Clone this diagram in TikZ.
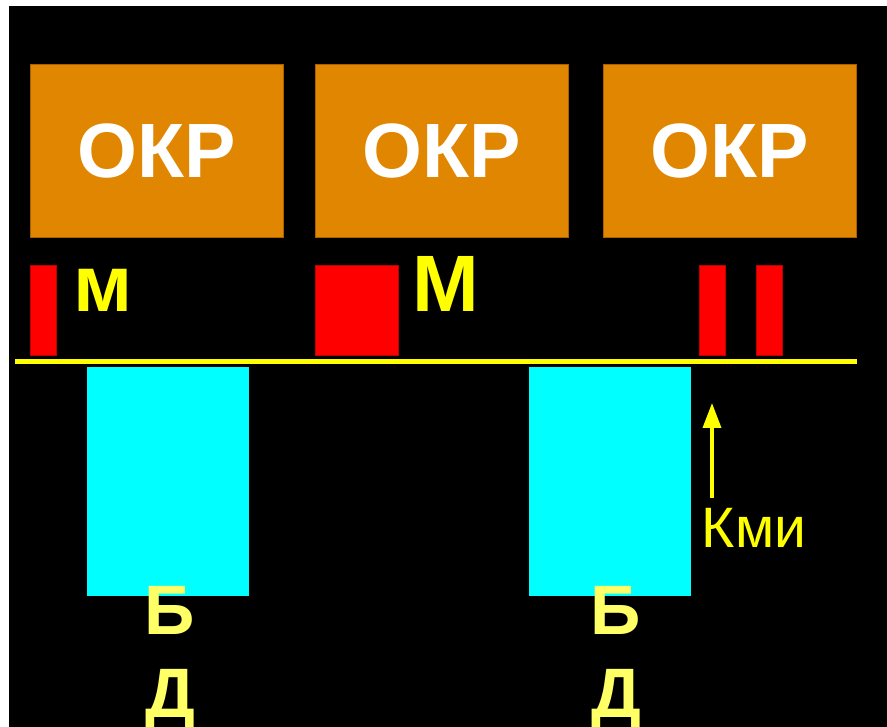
\documentclass[tikz,border=0pt]{standalone}
\usepackage{fontspec}
\setmainfont{Liberation Sans}
\usepackage{tikz}
\usetikzlibrary{arrows.meta}
\definecolor{okrorange}{RGB}{224,134,0}
\definecolor{okredge}{RGB}{168,96,0}
\definecolor{barred}{RGB}{255,0,0}
\definecolor{baredge}{RGB}{190,0,0}
\definecolor{bdcyan}{RGB}{0,255,255}
\definecolor{lineyellow}{RGB}{255,255,0}
\definecolor{bdyellow}{RGB}{255,255,102}
\begin{document}
\begin{tikzpicture}[x=1pt,y=-1pt,line join=miter,
	okrbox/.style={fill=okrorange,draw=okredge,line width=0.6pt,inner sep=0pt,minimum width=253pt,minimum height=173pt,text=white,font=\fontsize{77}{80}\selectfont\bfseries},
	barbox/.style={fill=barred,draw=baredge,line width=0.5pt,inner sep=0pt,minimum height=90pt},
	bdbox/.style={fill=bdcyan,inner sep=0pt,minimum width=162pt,minimum height=229pt},
	mlabel/.style={anchor=base,inner sep=0pt,text=lineyellow,font=\fontsize{80}{82}\selectfont\bfseries},
	bdlabel/.style={anchor=base,inner sep=0pt,text=bdyellow,font=\fontsize{70}{72}\selectfont\bfseries}]
	\useasboundingbox (0,0) rectangle (887,727);
	\fill[white] (0,0) rectangle (887,727);
	\fill[black] (9,6) rectangle (887,727);
	\node[okrbox] (okr1) at (157,150.5) {ОКР};
	\node[okrbox] (okr2) at (441.5,150.5) {ОКР};
	\node[okrbox] (okr3) at (730,150.5) {ОКР};
	\node[barbox,minimum width=26pt] (bar1) at (43,310) {};
	\node[barbox,minimum width=83pt] (bar2) at (356.5,310) {};
	\node[barbox,minimum width=26pt] (bar3) at (712,310) {};
	\node[barbox,minimum width=26pt] (bar4) at (769,310) {};
	\node[mlabel] (small) at (103.5,312) {м};
	\node[mlabel] (big) at (446,312) {М};
	\coordinate (lineL) at (15,361.5);
	\coordinate (lineR) at (857,361.5);
	\draw[lineyellow,line width=5.5pt] (lineL) -- (lineR);
	\node[bdbox] (bd1) at (168,481.5) {};
	\node[bdbox] (bd2) at (610,481.5) {};
	\node[bdlabel] (b1) at (170,634) {Б};
	\node[bdlabel] (d1) at (170,717) {Д};
	\node[bdlabel] (b2) at (616,634) {Б};
	\node[bdlabel] (d2) at (616,717) {Д};
	\node[anchor=base,inner sep=0pt,text=lineyellow,font=\fontsize{57}{60}\selectfont] (kmi) at (754,547) {Кми};
	\coordinate (kmiTail) at (712,498);
	\coordinate (kmiTip) at (712,403);
	\draw[lineyellow,line width=3.5pt,-{Triangle[length=25pt,width=18pt]}] (kmiTail) -- (kmiTip);
\end{tikzpicture}
\end{document}
